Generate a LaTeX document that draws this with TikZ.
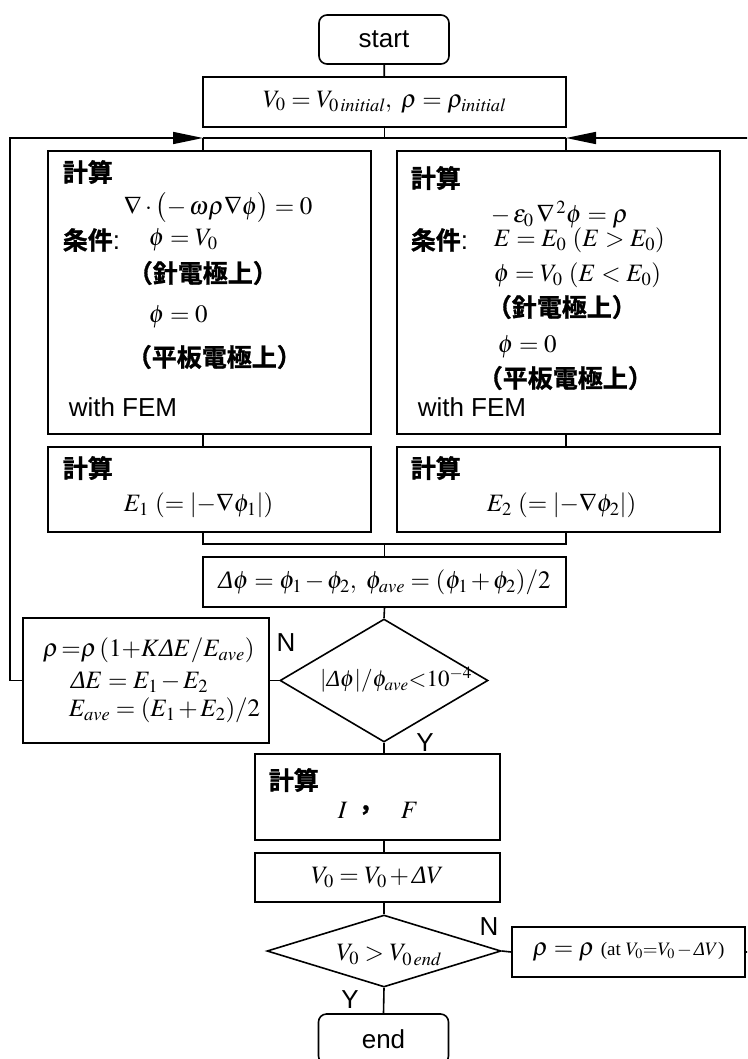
\documentclass[tikz,border=0pt]{standalone}
\usepackage{mathptmx}
\usepackage[no-math]{fontspec}
\setmainfont{Liberation Serif}
\setsansfont{Liberation Sans}
\newfontfamily\jpfont{Noto Sans CJK JP}[BoldFont={Noto Sans CJK JP Bold}, BoldFeatures={FakeBold=1.2}]
\usetikzlibrary{shapes.geometric,arrows.meta}

\newcommand{\jp}{\jpfont\bfseries\fontsize{25}{29}\selectfont}
\newcommand{\sans}{\sffamily\fontsize{26}{30}\selectfont}
\newcommand{\dlt}{\mbox{\itshape Δ}}
\newcommand{\ave}{\mathit{ave}}
\newcommand{\tm}{\mskip2mu{-}\mskip2mu}
\newcommand{\tp}{\mskip2mu{+}\mskip2mu}

\begin{document}
\begin{tikzpicture}[x=1pt, y=-1pt, line width=1.6pt,
		box/.style={draw, inner sep=0pt},
		term/.style={draw, rounded corners=8pt, minimum width=130pt, minimum height=49pt, font=\sans},
		decide/.style={draw, diamond, inner sep=0pt},
		txt/.style={anchor=west, inner sep=0pt},
		yn/.style={inner sep=0pt, font=\sans},
		feedback/.style={-{Triangle[length=30pt,width=12pt]}}]
		\tikzstyle{every node}=[font=\fontsize{25}{30}\selectfont]
		\useasboundingbox (0,0) rectangle (747,1059);
		\clip (0,0) rectangle (747,1059);

		% start and initial values
		\node[term] (start) at (384,39.5) {start};
		\node[box, minimum width=363pt, minimum height=50pt] (init) at (384.5,102)
			{$V_0 = V_{0\,\mathit{initial}},\ \rho = \rho_{\mathit{initial}}$};

		% the two field solutions
		\node[box, minimum width=323pt, minimum height=283pt] (fem1) at (209.5,292.5) {};
		\node[box, minimum width=323pt, minimum height=283pt] (fem2) at (558.5,292.5) {};

		\node[txt] (calcA) at (62,172) {\jp 計算};
		\node[txt] (poisA) at (123,208) {$\nabla\cdot\bigl(-\,\omega\rho\nabla\phi\bigr)=0$};
		\node[txt] (condA) at (62,240) {{\jp 条件}{\sans :}};
		\node[txt] (bcA1) at (148,240) {$\phi = V_0$};
		\node[txt] (elA1) at (127,273) {\jp （針電極上）};
		\node[txt] (bcA2) at (148,317) {$\phi = 0$};
		\node[txt] (elA2) at (126,357) {\jp （平板電極上）};
		\node[txt] (femA) at (68,407) {\sans with FEM};

		\node[txt] (calcB) at (410,178) {\jp 計算};
		\node[txt] (poisB) at (490,215) {$-\,\varepsilon_0\,\nabla^{\,2}\phi = \rho$};
		\node[txt] (condB) at (410,240) {{\jp 条件}{\sans :}};
		\node[txt] (bcB1) at (493,240) {$E = E_0\ (E > E_0)$};
		\node[txt] (bcB2) at (493,275) {$\phi = V_0\ (E < E_0)$};
		\node[txt] (elB1) at (486,307) {\jp （針電極上）};
		\node[txt] (bcB3) at (497,347) {$\phi = 0$};
		\node[txt] (elB2) at (477,378) {\jp （平板電極上）};
		\node[txt] (femB) at (417,407) {\sans with FEM};

		% field strengths
		\node[box, minimum width=323pt, minimum height=85pt] (grad1) at (209.5,489.5) {};
		\node[box, minimum width=323pt, minimum height=85pt] (grad2) at (558.5,489.5) {};
		\node[txt] (calcC) at (62,468) {\jp 計算};
		\node[txt] (fieldA) at (123,505) {$E_1\ (=|{-}\nabla\phi_1|)$};
		\node[txt] (calcD) at (410,468) {\jp 計算};
		\node[txt] (fieldB) at (486,505) {$E_2\ (=|{-}\nabla\phi_2|)$};

		% convergence test
		\node[box, minimum width=363pt, minimum height=50pt] (dphi) at (384.5,582)
			{$\dlt\phi = \phi_1\tm\phi_2,\ \phi_{\ave} = (\phi_1\tp\phi_2)/2$};
		\node[decide, minimum width=208pt, minimum height=123pt] (conv) at (384,680.5) {};
		\node[font=\fontsize{23}{27}\selectfont] (convtxt) at (396,680) {$|\dlt\phi|/\phi_{\ave}{<}10^{-4}$};

		\node[box, minimum width=246pt, minimum height=125pt] (upd) at (146,680.5) {};
		\node[txt] (updA) at (42,650) {$\rho\,{=}\rho\,(1{+}K\dlt E/E_{\ave})$};
		\node[txt] (updB) at (70,682) {$\dlt E = E_1\tm E_2$};
		\node[txt] (updC) at (68,710) {$E_{\ave} = (E_1\tp E_2)/2$};

		% current and force, next voltage
		\node[box, minimum width=245pt, minimum height=86pt] (calc) at (377.5,797) {};
		\node[txt] (calcE) at (268,780) {\jp 計算};
		\node[txt] (curr) at (337,810) {$I$};
		\node[txt] (comma) at (358,810) {\jp ，};
		\node[txt] (force) at (400,810) {$F$};

		\node[box, minimum width=245pt, minimum height=49pt] (incr) at (377.5,877.5)
			{$V_0 = V_0\tp\dlt V$};
		\node[decide, minimum width=234pt, minimum height=72pt] (endchk) at (384,951) {};
		\node (endtxt) at (389,955) {$V_0 > V_{0\,\mathit{end}}$};
		\node[box, minimum width=233pt, minimum height=50pt] (keep) at (628.5,952)
			{$\rho = \rho$ {\fontsize{19}{21}\selectfont (at $V_0{=}V_0\tm\dlt V$)}};
		\node[term, minimum height=50pt] (finish) at (383.5,1039) {end};

		\node[yn] (noA) at (286,643) {N};
		\node[yn] (yesA) at (425,743) {Y};
		\node[yn] (noB) at (489,927) {N};
		\node[yn] (yesB) at (350,1000) {Y};

		% connectors
		\coordinate (lbus) at (203,138);
		\coordinate (rbus) at (566,138);
		\coordinate (lbus2) at (203,544);
		\coordinate (rbus2) at (566,544);
		\coordinate (lx) at (10,0);
		\coordinate (rx) at (750,0);

		\draw (start) -- (init);
		\draw (init.south) -- (init.south |- lbus);
		\draw (lbus) -- (rbus);
		\draw (lbus) -- (lbus |- fem1.north);
		\draw (rbus) -- (rbus |- fem2.north);
		\draw (lbus |- fem1.south) -- (lbus |- grad1.north);
		\draw (rbus |- fem2.south) -- (rbus |- grad2.north);
		\draw (lbus |- grad1.south) -- (lbus2) -- (rbus2) -- (rbus |- grad2.south);
		\draw (dphi.north |- lbus2) -- (dphi.north);
		\draw (dphi.south) -- (conv.north);
		\draw (conv.west) -- (upd.east);
		\draw (conv.south) -- (conv.south |- calc.north);
		\draw (conv.south |- calc.south) -- (conv.south |- incr.north);
		\draw (conv.south |- incr.south) -- (endchk.north);
		\draw (endchk.east) -- (keep.west);
		\draw (endchk.south) -- (finish.north);

		\draw[feedback] (upd.west) -- (upd.west -| lx) |- (lbus);
		\draw[feedback] (keep.east) -- (keep.east -| rx) |- (rbus);
\end{tikzpicture}
\end{document}
